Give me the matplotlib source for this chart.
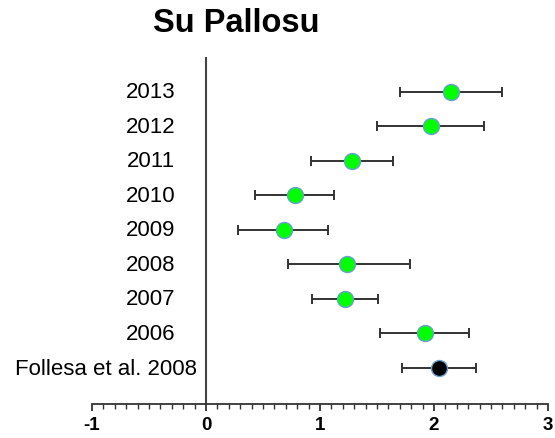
import numpy as np
import matplotlib
matplotlib.use("Agg")
import matplotlib.pyplot as plt
from matplotlib.ticker import MultipleLocator

plt.rcParams['font.family'] = ['Liberation Sans', 'DejaVu Sans']
plt.rcParams['axes.unicode_minus'] = False

# data, top to bottom as drawn
labels = ["2013", "2012", "2011", "2010", "2009", "2008", "2007", "2006", "Follesa et al. 2008"]
means = [2.15, 1.97, 1.28, 0.78, 0.68, 1.24, 1.22, 1.92, 2.04]
lows = [1.70, 1.50, 0.92, 0.43, 0.28, 0.72, 0.93, 1.53, 1.72]
highs = [2.60, 2.44, 1.64, 1.12, 1.07, 1.79, 1.51, 2.31, 2.37]
colors = ["#00ff00"] * 8 + ["#000000"]

n = len(labels)
ys = np.arange(n)[::-1]

fig = plt.figure(figsize=(5.55, 4.39), dpi=100)
ax = fig.add_axes([92/555, 1-405/439, 456/555, 347/439])

for i in range(n):
    m = means[i]
    ax.errorbar(m, ys[i], xerr=[[m - lows[i]], [highs[i] - m]], fmt='none',
                ecolor='#333333', elinewidth=1.4, capsize=3.5, capthick=1.4, zorder=2)
    ax.plot(m, ys[i], 'o', ms=11.5, mfc=colors[i], mec='#6a9fd0', mew=1.0, zorder=3)
    xt = -0.08 if i == n - 1 else -0.27
    ax.text(xt, ys[i], labels[i], ha='right', va='center', fontsize=16)

ax.axvline(0, color='#444444', lw=1.5, zorder=1)
ax.set_xlim(-1, 3)
ax.set_ylim(-1.04, 9.0)

for s in ['top', 'right', 'left']:
    ax.spines[s].set_visible(False)
ax.spines['bottom'].set_color('#333333')
ax.spines['bottom'].set_linewidth(1.3)
ax.set_yticks([])
ax.xaxis.set_major_locator(MultipleLocator(1))
ax.xaxis.set_minor_locator(MultipleLocator(0.1))
ax.tick_params(axis='x', which='major', length=5, width=1.3, color='#333333',
               labelsize=13.5, pad=4)
ax.tick_params(axis='x', which='minor', length=3.5, width=1.0, color='#333333')
for t in ax.get_xticklabels():
    t.set_fontweight('bold')

fig.text(236/555, 1-23/439, "Su Pallosu", ha='center', va='center',
         fontsize=23.5, fontweight='bold')

fig.savefig("out.png", dpi=100)
